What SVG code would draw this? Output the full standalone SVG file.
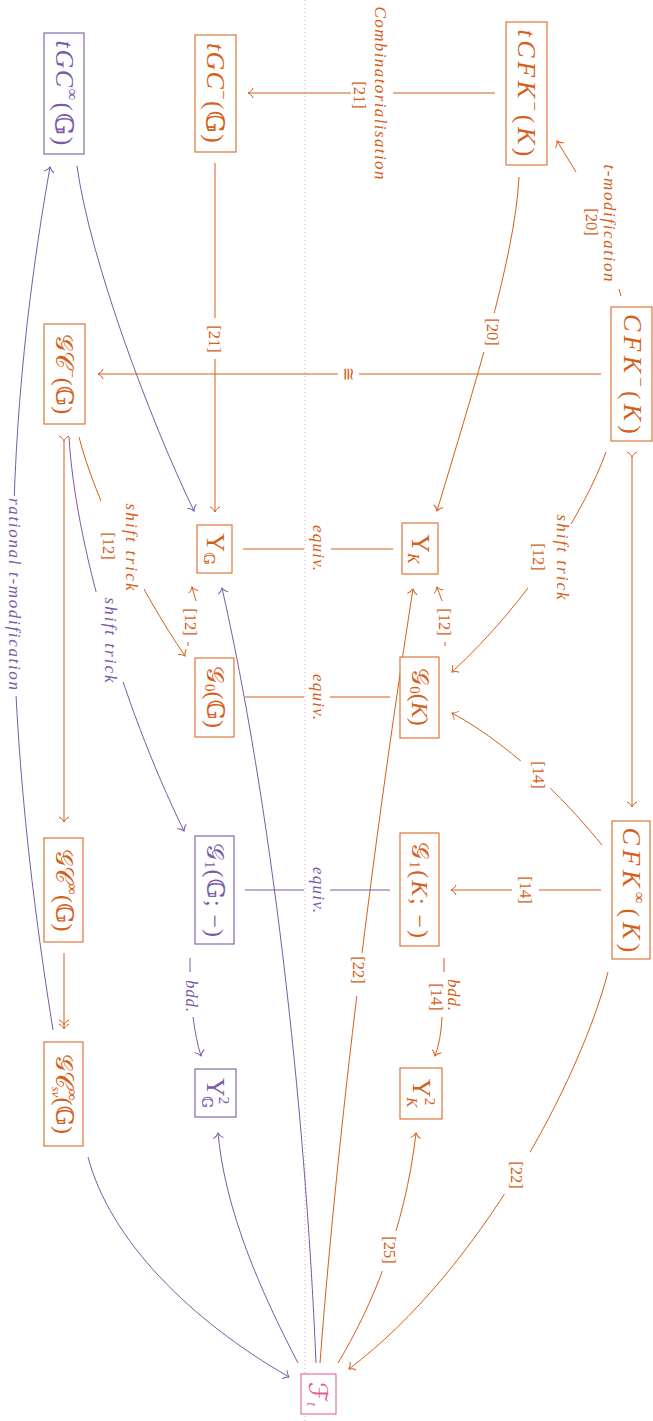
<svg xmlns="http://www.w3.org/2000/svg" width="653" height="1421" viewBox="0 0 653 1421">
<style>
.o{stroke:#d4601a;fill:none;stroke-width:1}
.p{stroke:#7b5aa8;fill:none;stroke-width:1}
.bo{stroke:#d96a26;fill:#fff;stroke-width:1.1}
.bp{stroke:#7b5aa8;fill:#fff;stroke-width:1.1}
.bk{stroke:#e0649a;fill:#fff;stroke-width:1.1}
text{font-family:"Liberation Serif","DejaVu Serif",serif;text-anchor:middle;dominant-baseline:central}
.to{fill:#d4601a}
.tp{fill:#7b5aa8}
.tk{fill:#e0649a}
.n{font-size:26px;font-style:italic}
.s{font-size:24px;font-style:normal}
.i{font-size:17px;font-style:italic}
.r{font-size:16.5px}
.m{font-family:"DejaVu Serif","DejaVu Sans",serif;font-style:normal}
.up{font-style:normal}
</style>
<defs>
<marker id="ao" viewBox="-7 -7 9 14" refX="0" refY="0" markerWidth="9" markerHeight="14" markerUnits="userSpaceOnUse" orient="auto" overflow="visible">
<path d="M-5,-5 C-4,-2 -1,-0.5 0,0 C-1,0.5 -4,2 -5,5" fill="none" stroke="#d4601a" stroke-width="1"/>
</marker>
<marker id="ap" viewBox="-7 -7 9 14" refX="0" refY="0" markerWidth="9" markerHeight="14" markerUnits="userSpaceOnUse" orient="auto" overflow="visible">
<path d="M-5,-5 C-4,-2 -1,-0.5 0,0 C-1,0.5 -4,2 -5,5" fill="none" stroke="#7b5aa8" stroke-width="1"/>
</marker>
<marker id="ao2" viewBox="-11 -7 13 14" refX="0" refY="0" markerWidth="13" markerHeight="14" markerUnits="userSpaceOnUse" orient="auto" overflow="visible">
<path d="M-5,-5 C-4,-2 -1,-0.5 0,0 C-1,0.5 -4,2 -5,5 M-9,-5 C-8,-2 -5,-0.5 -4,0 C-5,0.5 -8,2 -9,5" fill="none" stroke="#d4601a" stroke-width="1"/>
</marker>
</defs>

<path d="M305,0 V1421" stroke="#e8a0b8" stroke-width="1" stroke-dasharray="1 3" fill="none"/>

<g id="connectors">
<g id="orange-edges">
<path class="o" d="M495,93 H393 M351,93 H248" marker-end="url(#ao)"/>
<path class="o" d="M621,296 L619,289"/>
<path class="o" d="M576,172 L557,141" marker-end="url(#ao)"/>
<path class="o" d="M519,177 C515,260 470,400 437,511" marker-end="url(#ao)"/>
<path class="o" d="M601,374 H359 M338,374 H98" marker-end="url(#ao)"/>
<path class="o" d="M215,163 V318 M215,359 V512" marker-end="url(#ao)"/>
<path class="o" d="M606,452 C585,510 530,600 452,672" marker-end="url(#ao)"/>
<path class="o" d="M79,437 C95,500 140,590 185,656" marker-end="url(#ao)"/>
<path class="o" d="M64,441 V822" marker-start="url(#ao)" marker-end="url(#ao)"/>
<path class="o" d="M632,457 V807" marker-start="url(#ao)" marker-end="url(#ao)"/>
<path class="o" d="M64,953 V1029" marker-end="url(#ao2)"/>
<path class="o" d="M243,549 H304 M331,549 H393"/>
<path class="o" d="M245,697 H304 M330,697 H390"/>
<path class="o" d="M188,646 L188,642"/>
<path class="o" d="M196,601 L192,587" marker-end="url(#ao)"/>
<path class="o" d="M445,646 L445,642"/>
<path class="o" d="M442,601 L437,587" marker-end="url(#ao)"/>
<path class="o" d="M602,845 C575,812 520,750 452,713" marker-end="url(#ao)"/>
<path class="o" d="M601,890 H539 M512,890 H451" marker-end="url(#ao)"/>
<path class="o" d="M444,958 V972"/>
<path class="o" d="M442,1017 Q441,1040 435,1056" marker-end="url(#ao)"/>
<path class="o" d="M320,1363 C340,1100 380,800 413,589" marker-end="url(#ao)"/>
<path class="o" d="M608,972 C580,1080 480,1270 349,1369" marker-end="url(#ao)"/>
<path class="o" d="M338,1363 C370,1310 405,1230 416,1133" marker-end="url(#ao)"/>
</g>
<g id="purple-edges">
<path class="p" d="M77,166 C90,260 150,420 194,511" marker-end="url(#ap)"/>
<path class="p" d="M53,1030 C0,700 0,450 50,167" marker-end="url(#ap)"/>
<path class="p" d="M69,437 C75,540 120,700 184,831" marker-end="url(#ap)"/>
<path class="p" d="M245,890 H304 M330,890 H390"/>
<path class="p" d="M190,958 V972"/>
<path class="p" d="M193,1017 Q196,1040 201,1056" marker-end="url(#ap)"/>
<path class="p" d="M298,1363 C260,1290 225,1210 218,1133" marker-end="url(#ap)"/>
<path class="p" d="M316,1363 C305,1100 270,800 222,588" marker-end="url(#ap)"/>
<path class="p" d="M88,1157 C110,1240 190,1320 289,1377" marker-end="url(#ap)"/>
</g>
<g id="label-gaps" fill="#fff" stroke="none">
<rect x="578" y="174" width="44" height="114"/>
<rect x="478" y="313" width="28" height="39"/>
<rect x="528" y="524" width="46" height="65"/>
<rect x="101" y="497" width="43" height="94"/>
<rect x="94" y="592" width="32" height="90"/>
<rect x="4" y="496" width="22" height="200"/>
<rect x="520" y="761" width="31" height="27"/>
<rect x="348" y="953" width="22" height="43"/>
<rect x="501" y="1152" width="29" height="42"/>
<rect x="381" y="1231" width="16" height="40"/>
</g>
<g id="edge-labels">
<text class="i to" transform="translate(380,93) rotate(90)" textLength="173" lengthAdjust="spacing">Combinatorialisation</text>
<text class="r to" transform="translate(359,95) rotate(90)">[21]</text>
<text class="i to" transform="translate(609,223) rotate(90)" textLength="117" lengthAdjust="spacing">t-modification</text>
<text class="r to" transform="translate(591,222) rotate(90)">[20]</text>
<text class="r to" transform="translate(492,332) rotate(90)">[20]</text>
<text class="r to" transform="translate(348,374) rotate(90)" style="font-size:17px">≅</text>
<text class="r to" transform="translate(214,339) rotate(90)">[21]</text>
<text class="i to" transform="translate(562,557) rotate(90)" textLength="85" lengthAdjust="spacing">shift trick</text>
<text class="r to" transform="translate(538,557) rotate(90)">[12]</text>
<text class="i to" transform="translate(131,547) rotate(90)" textLength="87" lengthAdjust="spacing">shift trick</text>
<text class="r to" transform="translate(108,546) rotate(90)">[12]</text>
<text class="i tp" transform="translate(110,640) rotate(90)" textLength="85" lengthAdjust="spacing">shift trick</text>
<text class="i tp" transform="translate(14,594) rotate(90)" textLength="192" lengthAdjust="spacing">rational t-modification</text>
<text class="i to" transform="translate(318,548) rotate(90)" textLength="46" lengthAdjust="spacing">equiv.</text>
<text class="i to" transform="translate(318,697) rotate(90)" textLength="46" lengthAdjust="spacing">equiv.</text>
<text class="i tp" transform="translate(318,890) rotate(90)" textLength="46" lengthAdjust="spacing">equiv.</text>
<text class="r to" transform="translate(190,622) rotate(90)">[12]</text>
<text class="r to" transform="translate(444,622) rotate(90)">[12]</text>
<text class="r to" transform="translate(538,775) rotate(90)">[14]</text>
<text class="r to" transform="translate(525,890) rotate(90)">[14]</text>
<text class="i to" transform="translate(453,995) rotate(90)" textLength="32" lengthAdjust="spacing">bdd.</text>
<text class="r to" transform="translate(436,997) rotate(90)">[14]</text>
<text class="i tp" transform="translate(191,996) rotate(90)" textLength="32" lengthAdjust="spacing">bdd.</text>
<text class="r to" transform="translate(358,970) rotate(90)">[22]</text>
<text class="r to" transform="translate(516,1175) rotate(90)">[22]</text>
<text class="r to" transform="translate(389,1250) rotate(90)">[25]</text>
</g>
</g>

<g id="n-tGCinf">
<rect class="bp" x="44" y="33" width="40" height="121"/>
<text class="n tp" transform="translate(64,93) rotate(90)" textLength="105" lengthAdjust="spacing">tGC<tspan font-size="17" dy="-9" class="up">∞</tspan><tspan dy="9" class="up">(</tspan><tspan class="m">𝔾</tspan><tspan class="up">)</tspan></text>
</g>
<g id="n-tGCminus">
<rect class="bo" x="195" y="35" width="41" height="117"/>
<text class="n to" transform="translate(215,93) rotate(90)" textLength="100" lengthAdjust="spacing">tGC<tspan font-size="17" dy="-9" class="up">−</tspan><tspan dy="9" class="up">(</tspan><tspan class="m">𝔾</tspan><tspan class="up">)</tspan></text>
</g>
<g id="n-tCFKminus">
<rect class="bo" x="506" y="22" width="41" height="143"/>
<text class="n to" transform="translate(526,93) rotate(90)" textLength="127" lengthAdjust="spacing">tCFK<tspan font-size="17" dy="-9" class="up">−</tspan><tspan dy="9" class="up">(</tspan>K<tspan class="up">)</tspan></text>
</g>
<g id="n-CFKminus">
<rect class="bo" x="611" y="307" width="41" height="134"/>
<text class="n to" transform="translate(632,374) rotate(90)" textLength="120" lengthAdjust="spacing">CFK<tspan font-size="17" dy="-9" class="up">−</tspan><tspan dy="9" class="up">(</tspan>K<tspan class="up">)</tspan></text>
</g>
<g id="n-GCminus">
<rect class="bo" x="44" y="324" width="41" height="100"/>
<text class="s to" transform="translate(64,374) rotate(90)"><tspan class="m">𝒢𝒞</tspan><tspan font-size="16" dy="-9">−</tspan><tspan dy="9">(</tspan><tspan class="m">𝔾</tspan>)</text>
</g>
<g id="n-UpsG">
<rect class="bo" x="197" y="525" width="35" height="48"/>
<text class="n to up" transform="translate(215,549) rotate(90)">Υ<tspan font-size="15" dy="6" class="m">𝔾</tspan></text>
</g>
<g id="n-UpsK">
<rect class="bo" x="402" y="523" width="36" height="51"/>
<text class="n to up" transform="translate(420,549) rotate(90)">Υ<tspan font-size="16" dy="6" font-style="italic">K</tspan></text>
</g>
<g id="n-G0G">
<rect class="bo" x="195" y="658" width="39" height="79"/>
<text class="s to" transform="translate(215,697) rotate(90)"><tspan class="m">𝒢</tspan><tspan font-size="15" dx="1" dy="5">0</tspan><tspan dy="-5">(</tspan><tspan class="m">𝔾</tspan>)</text>
</g>
<g id="n-G0K">
<rect class="bo" x="400" y="657" width="39" height="81"/>
<text class="s to" transform="translate(420,697) rotate(90)"><tspan class="m">𝒢</tspan><tspan font-size="15" dx="1" dy="5">0</tspan><tspan dy="-5">(</tspan><tspan font-style="italic">K</tspan>)</text>
</g>
<g id="n-CFKinf">
<rect class="bo" x="612" y="821" width="38" height="138"/>
<text class="n to" transform="translate(631,890) rotate(90)" textLength="125" lengthAdjust="spacing">CFK<tspan font-size="17" dy="-9" class="up">∞</tspan><tspan dy="9" class="up">(</tspan>K<tspan class="up">)</tspan></text>
</g>
<g id="n-G1K">
<rect class="bo" x="400" y="833" width="39" height="113"/>
<text class="s to" transform="translate(420,890) rotate(90)" textLength="96" lengthAdjust="spacing"><tspan class="m">𝒢</tspan><tspan font-size="15" dy="5">1</tspan><tspan dy="-5">(</tspan><tspan font-style="italic">K</tspan>; −)</text>
</g>
<g id="n-G1G">
<rect class="bp" x="195" y="836" width="39" height="108"/>
<text class="s tp" transform="translate(215,890) rotate(90)" textLength="94" lengthAdjust="spacing"><tspan class="m">𝒢</tspan><tspan font-size="15" dy="5">1</tspan><tspan dy="-5">(</tspan><tspan class="m">𝔾</tspan>; −)</text>
</g>
<g id="n-GCinf">
<rect class="bo" x="44" y="838" width="39" height="104"/>
<text class="s to" transform="translate(64,890) rotate(90)"><tspan class="m">𝒢𝒞</tspan><tspan font-size="16" dy="-9">∞</tspan><tspan dy="9">(</tspan><tspan class="m">𝔾</tspan>)</text>
</g>
<g id="n-GCsv">
<rect class="bo" x="44" y="1042" width="39" height="104"/>
<text class="s to" transform="translate(64,1094) rotate(90)"><tspan class="m">𝒢𝒞</tspan><tspan font-size="16" dy="-9">∞</tspan><tspan font-size="13" font-style="italic" dx="-14" dy="16">sv</tspan><tspan dy="-7">(</tspan><tspan class="m">𝔾</tspan>)</text>
</g>
<g id="n-Ups2G">
<rect class="bp" x="195" y="1069" width="41" height="48"/>
<text class="n tp up" transform="translate(215,1093) rotate(90)">Υ<tspan font-size="15" dy="-9">2</tspan><tspan font-size="14" dx="-8" dy="17" class="m">𝔾</tspan></text>
</g>
<g id="n-Ups2K">
<rect class="bo" x="400" y="1068" width="42" height="51"/>
<text class="n to up" transform="translate(421,1093) rotate(90)">Υ<tspan font-size="15" dy="-9">2</tspan><tspan font-size="15" dx="-8" dy="18" font-style="italic">K</tspan></text>
</g>
<g id="n-Ft">
<rect class="bk" x="301" y="1374" width="35" height="40"/>
<text class="n tk up" transform="translate(318,1394) rotate(90)"><tspan class="m">ℱ</tspan><tspan font-size="14" dy="6" font-style="italic">t</tspan></text>
</g>
</svg>
